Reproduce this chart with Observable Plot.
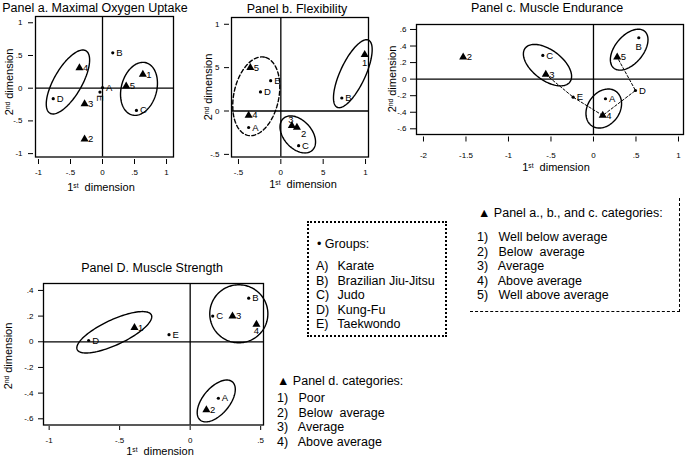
<!DOCTYPE html>
<html><head><meta charset="utf-8">
<script src="https://cdn.jsdelivr.net/npm/d3@7"></script>
<script src="https://cdn.jsdelivr.net/npm/@observablehq/plot@0.6"></script>
<style>
body{margin:0;background:#fff;font-family:"Liberation Sans",Arial,sans-serif;color:#000}
#root{position:relative;width:685px;height:457px;overflow:hidden;background:#fff}
.abs{position:absolute;white-space:nowrap}
.c{transform:translate(-50%,-50%)}
.rot{transform:translate(-50%,-50%) rotate(-90deg)}
.title{font-size:12.5px}
.axt{font-size:11px}
sup{font-size:0.6em;vertical-align:0.5em;line-height:0}
.leg{font-size:12.5px;line-height:14.6px}
.leg .n{display:inline-block;width:18px}
#root svg{position:absolute}
</style></head><body><div id="root"></div>
<script>
// ---------- data ----------
const groupNames = ["A","B","C","D","E"];
const catNamesAB = ["1","2","3","4","5"];
const catNamesC = ["2","3","4","5"];
const catNamesD = ["1","2","3","4"];

// Panel a. Maximal Oxygen Uptake
const aGroupX = [0.00, 0.16, 0.53, -0.77, -0.04];
const aGroupY = [0.01, 0.54, -0.34, -0.16, -0.06];
const aCatX = [0.63, -0.28, -0.28, -0.36, 0.37];
const aCatY = [0.21, -0.78, -0.24, 0.31, 0.03];
const aEllCX = [-0.54, 0.57], aEllCY = [0.095, -0.01];
const aEllUX = [0.281, 0.109], aEllUY = [0.477, 0.399];
const aEllVX = [-0.189, -0.267], aEllVY = [0.107, 0.070];
const aXTicks = [-1, -0.5, 0, 0.5, 1], aXLabels = ["-1", "-.5", "0", ".5", "1"];
const aYTicks = [-1, -0.5, 0, 0.5, 1], aYLabels = ["-1", "-.5", "0", ".5", "1"];

// Panel b. Flexibility
const bGroupX = [-0.38, 0.72, 0.21, -0.24, -0.12];
const bGroupY = [-0.19, 0.15, -0.40, 0.22, 0.35];
const bCatX = [0.99, 0.19, 0.13, -0.38, -0.36];
const bCatY = [0.65, -0.19, -0.17, -0.05, 0.50];
const bEllCX = [-0.29, 0.85, 0.20], bEllCY = [0.17, 0.43, -0.27];
const bEllUX = [0.098, 0.185, 0.170], bEllUY = [0.451, 0.387, -0.184];
const bEllVX = [-0.260, -0.134, 0.123], bEllVY = [0.054, 0.061, 0.108];
const bXTicks = [-0.5, 0, 0.5, 1], bXLabels = ["-.5", "0", "5", "1"];
const bYTicks = [-0.5, 0, 0.5, 1], bYLabels = ["-.5", "0", "5", "1"];

// Panel c. Muscle Endurance
const cGroupX = [0.141, 0.533, -0.596, 0.494, -0.239];
const cGroupY = [-0.237, 0.50, 0.286, -0.137, -0.218];
const cCatX = [-1.533, -0.561, 0.109, 0.279];
const cCatY = [0.265, 0.056, -0.439, 0.265];
const cEllCX = [-0.541, 0.42, 0.121], cEllCY = [0.169, 0.356, -0.355];
const cEllUX = [0.263, 0.182, 0.142], cEllUY = [-0.204, 0.222, 0.208];
const cEllVX = [0.106, -0.126, -0.154], cEllVY = [0.145, 0.109, 0.111];
const cPathOrder = ["3", "E", "4", "D", "5"];
const cXTicks = [-2, -1.5, -1, -0.5, 0, 0.5, 1], cXLabels = ["-2", "-1.5", "-1", "-.5", "0", ".5", "1"];
const cYTicks = [-0.6, -0.4, -0.2, 0, 0.2, 0.4, 0.6], cYLabels = ["-.6", "-.4", "-.2", "0", ".2", ".4", ".6"];

// Panel D. Muscle Strength
const dGroupX = [0.20, 0.415, 0.16, -0.72, -0.15];
const dGroupY = [-0.44, 0.34, 0.20, 0.01, 0.055];
const dCatX = [-0.395, 0.115, 0.30, 0.47];
const dCatY = [0.11, -0.53, 0.20, 0.135];
const dEllCX = [-0.538, 0.345, 0.185], dEllCY = [0.074, 0.218, -0.461];
const dEllUX = [0.263, 0.206, 0.114], dEllUY = [0.135, 0, 0.149];
const dEllVX = [-0.0375, 0, -0.0723], dEllVY = [0.0883, 0.226, 0.0667];
const dXTicks = [-1, -0.5, 0, 0.5], dXLabels = ["-1", "-.5", "0", ".5"];
const dYTicks = [-0.6, -0.4, -0.2, 0, 0.2, 0.4], dYLabels = ["-.6", "-.4", "-.2", "0", ".2", ".4"];

// legend texts
const groupLabels = ["Karate", "Brazilian Jiu-Jitsu", "Judo", "Kung-Fu", "Taekwondo"];
const catLabelsABC = ["Well below average", "Below&nbsp; average", "Average", "Above average", "Well above average"];
const catLabelsD = ["Poor", "Below&nbsp; average", "Average", "Above average"];

// ---------- helpers ----------
const root = document.getElementById("root");
const FONT = "Liberation Sans, Arial, sans-serif";

function pts(names, xs, ys) {
  return names.map((n, i) => ({name: n, x: xs[i], y: ys[i]}));
}
function ellipses(cx, cy, ux, uy, vx, vy) {
  const out = [];
  const N = 120;
  cx.forEach((_, i) => {
    for (let k = 0; k < N; k++) {
      const t = 2 * Math.PI * k / N;
      out.push({id: i, x: cx[i] + ux[i] * Math.cos(t) + vx[i] * Math.sin(t),
                       y: cy[i] + uy[i] * Math.cos(t) + vy[i] * Math.sin(t)});
    }
  });
  return out;
}

function panel(cfg) {
  const groups = pts(groupNames, cfg.gx, cfg.gy);
  const cats = pts(cfg.catNames, cfg.cx, cfg.cy);
  const ell = ellipses(...cfg.ell);
  const special = cfg.special || {};
  const allLabels = [...groups.map(d => ({...d, kind: "g"})), ...cats.map(d => ({...d, kind: "c"}))];
  const xMap = new Map(cfg.xTicks.map((t, i) => [t, cfg.xLabels[i]]));
  const yMap = new Map(cfg.yTicks.map((t, i) => [t, cfg.yLabels[i]]));
  const dashed = cfg.dashed || [];
  const marks = [
    Plot.frame({insetLeft: cfg.il, insetBottom: cfg.ib, stroke: "#000", strokeWidth: 1.3}),
    Plot.ruleX([0], {insetBottom: cfg.ib, stroke: "#000", strokeWidth: 1.3}),
    Plot.ruleY([0], {insetLeft: cfg.il, stroke: "#000", strokeWidth: 1.3}),
    Plot.line(ell.filter(d => !dashed.includes(d.id)), {x: "x", y: "y", z: "id", curve: "linear-closed", stroke: "#000", strokeWidth: 1.4}),
    Plot.line(ell.filter(d => dashed.includes(d.id)), {x: "x", y: "y", z: "id", curve: "linear-closed", stroke: "#000", strokeWidth: 1.4, strokeDasharray: "4,2.5"})
  ];
  if (cfg.path) {
    const lookup = new Map(allLabels.map(d => [d.name, d]));
    const pathPts = cfg.path.map(n => lookup.get(n));
    marks.push(Plot.line(pathPts, {x: "x", y: "y", stroke: "#000", strokeWidth: 1, strokeDasharray: "2.5,2"}));
  }
  marks.push(
    Plot.dot(groups, {x: "x", y: "y", r: 1.6, fill: "#000", stroke: null}),
    Plot.dot(cats, {x: "x", y: "y", symbol: "triangle", r: 3, fill: "#000", stroke: null}),
    Plot.text(allLabels.filter(d => !special[d.name]), {x: "x", y: "y", text: "name", dx: 3.5, textAnchor: "start", fontSize: 9.5, fill: "#000"})
  );
  for (const [n, s] of Object.entries(special)) {
    marks.push(Plot.text(allLabels.filter(d => d.name === n), {x: "x", y: "y", text: "name", dx: s.dx, dy: s.dy, rotate: s.rotate || 0, textAnchor: s.anchor, fontSize: 9.5, fill: "#000"}));
  }
  marks.push(
    Plot.axisX(cfg.xTicks, {tickFormat: d => xMap.get(d), tickSize: cfg.xts, tickPadding: cfg.xtp, fontSize: 8, label: null}),
    Plot.axisY(cfg.yTicks, {tickFormat: d => yMap.get(d), tickSize: cfg.yts, tickPadding: cfg.ytp, fontSize: 8, label: null})
  );
  const svg = Plot.plot({
    width: cfg.w, height: cfg.h,
    marginLeft: cfg.ml, marginRight: cfg.mr, marginTop: cfg.mt, marginBottom: cfg.mb,
    x: {domain: cfg.xDomain, label: null},
    y: {domain: cfg.yDomain, label: null},
    style: {background: "transparent", fontFamily: FONT, fontSize: "8px", color: "#000", overflow: "visible"},
    marks
  });
  svg.style.left = cfg.left + "px";
  svg.style.top = cfg.top + "px";
  root.appendChild(svg);
}

function html(cls, x, y, content) {
  const d = document.createElement("div");
  d.className = "abs " + cls;
  d.style.left = x + "px";
  d.style.top = y + "px";
  d.innerHTML = content;
  root.appendChild(d);
  return d;
}

// ---------- panels ----------
panel({left: 0, top: 0, w: 180, h: 195, ml: 33, mr: 7, mt: 16, mb: 36,
  xDomain: [-1.078, 1.109], yDomain: [-1.090, 1.096], il: 2, ib: 2.5,
  gx: aGroupX, gy: aGroupY, catNames: catNamesAB, cx: aCatX, cy: aCatY,
  ell: [aEllCX, aEllCY, aEllUX, aEllUY, aEllVX, aEllVY],
  xTicks: aXTicks, xLabels: aXLabels, yTicks: aYTicks, yLabels: aYLabels,
  xts: 5, xtp: 5, yts: 5, ytp: 6,
  special: {E: {dx: 0, dy: 6, rotate: 90, anchor: "middle"}}
});

panel({left: 196, top: 0, w: 180, h: 195, ml: 33, mr: 8, mt: 17, mb: 36,
  xDomain: [-0.606, 1.035], yDomain: [-0.559, 1.078], il: 2, ib: 2.5,
  gx: bGroupX, gy: bGroupY, catNames: catNamesAB, cx: bCatX, cy: bCatY,
  ell: [bEllCX, bEllCY, bEllUX, bEllUY, bEllVX, bEllVY], dashed: [0],
  xTicks: bXTicks, xLabels: bXLabels, yTicks: bYTicks, yLabels: bYLabels,
  xts: 5, xtp: 5, yts: 5, ytp: 5,
  special: {"1": {dx: 0, dy: 8, anchor: "middle"}, "3": {dx: -1, dy: -6, anchor: "middle"}, "2": {dx: 4, dy: 6, anchor: "start"}}
});

panel({left: 380, top: 0, w: 305, h: 180, ml: 36, mr: 2, mt: 24, mb: 43.5,
  xDomain: [-2.082, 1.059], yDomain: [-0.699, 0.660], il: 0, ib: 2.5,
  gx: cGroupX, gy: cGroupY, catNames: catNamesC, cx: cCatX, cy: cCatY,
  ell: [cEllCX, cEllCY, cEllUX, cEllUY, cEllVX, cEllVY], path: cPathOrder,
  xTicks: cXTicks, xLabels: cXLabels, yTicks: cYTicks, yLabels: cYLabels,
  xts: 5, xtp: 10, yts: 6, ytp: 4,
  special: {B: {dx: 0, dy: 9, anchor: "middle"}}
});

panel({left: 0, top: 260, w: 270, h: 197, ml: 43, mr: 7, mt: 23, mb: 31,
  xDomain: [-1.040, 0.520], yDomain: [-0.660, 0.454], il: 0, ib: 1.5,
  gx: dGroupX, gy: dGroupY, catNames: catNamesD, cx: dCatX, cy: dCatY,
  ell: [dEllCX, dEllCY, dEllUX, dEllUY, dEllVX, dEllVY],
  xTicks: dXTicks, xLabels: dXLabels, yTicks: dYTicks, yLabels: dYLabels,
  xts: 4, xtp: 7, yts: 5, ytp: 5,
  special: {"4": {dx: 0, dy: 7, anchor: "middle"}}
});

// ---------- titles & axis titles ----------
html("c title", 95, 8, "Panel a. Maximal Oxygen Uptake");
html("c title", 297, 9, "Panel b. Flexibility");
html("c title", 547, 8, "Panel c. Muscle Endurance");
html("c title", 152, 268, "Panel D. Muscle Strength");

const xT = "1<sup>st</sup>&nbsp; dimension", yT = "2<sup>nd</sup> dimension";
html("c axt", 101, 187, xT); html("rot axt", 9, 82, yT);
html("c axt", 303, 184, xT); html("rot axt", 208, 87, yT);
html("c axt", 556, 167, xT); html("rot axt", 392, 79, yT);
html("c axt", 160, 451, xT); html("rot axt", 8, 356, yT);

// ---------- legends ----------
const gbox = html("leg", 307, 221, "");
gbox.style.width = "136px"; gbox.style.height = "112px";
gbox.style.border = "2px dotted #000";
gbox.innerHTML = `<div style="position:absolute;left:8px;top:14px">&#8226; Groups:</div>` +
  `<div style="position:absolute;left:7px;top:36px">` +
  groupNames.map((g, i) => `<div><span class="n">${g})</span> ${groupLabels[i]}</div>`).join("") + `</div>`;

const cbox = html("leg", 470, 198, "");
cbox.style.width = "209px"; cbox.style.height = "113px";
cbox.style.borderRight = "1.3px dashed #000"; cbox.style.borderBottom = "1.3px dashed #000";
cbox.innerHTML = `<div style="position:absolute;left:8px;top:8px">&#9650; Panel a., b., and c. categories:</div>` +
  `<div style="position:absolute;left:7px;top:32px">` +
  catNamesAB.map((c, i) => `<div><span class="n">${c})</span> ${catLabelsABC[i]}</div>`).join("") + `</div>`;

const dbox = html("leg", 270, 366, "");
dbox.innerHTML = `<div style="position:absolute;left:7px;top:8px">&#9650; Panel d. categories:</div>` +
  `<div style="position:absolute;left:7px;top:25px">` +
  catNamesD.map((c, i) => `<div><span class="n">${c})</span> ${catLabelsD[i]}</div>`).join("") + `</div>`;
</script>
</body></html>
